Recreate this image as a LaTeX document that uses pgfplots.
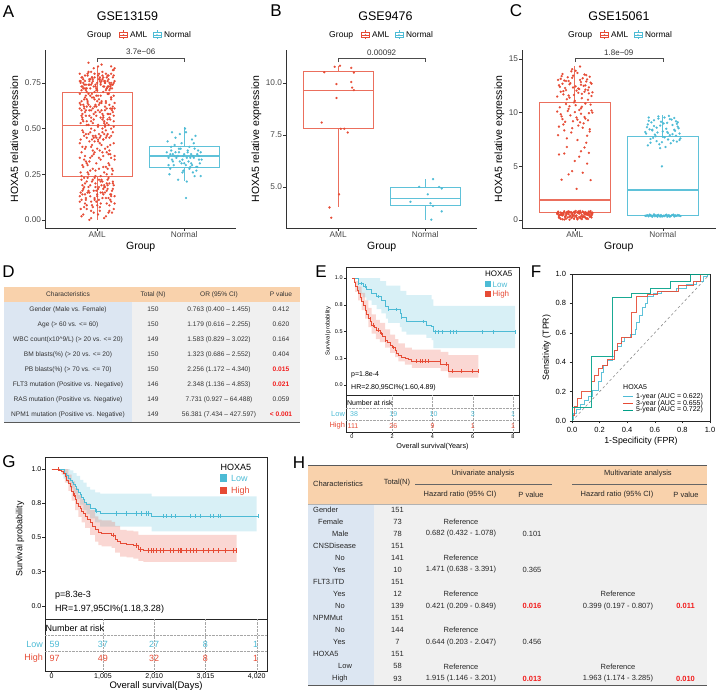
\documentclass[border=0pt]{standalone}
\usepackage{fontspec}
\setmainfont{Liberation Sans}
\usepackage{pgfplots}
\pgfplotsset{compat=1.18}
\usepgfplotslibrary{statistics}

\definecolor{aml}{HTML}{E64B35}
\definecolor{nrm}{HTML}{4DBBD5}
\definecolor{tealc}{HTML}{00A087}
\definecolor{peach}{HTML}{F9D2AC}
\definecolor{colblue}{HTML}{DCE6F2}
\definecolor{bodygray}{HTML}{F0F0F0}
\definecolor{axisgray}{HTML}{333333}
\definecolor{pred}{HTML}{F21D1D}

\newcommand{\fs}[1]{\fontsize{#1}{#1}\selectfont}

\pgfplotsset{
  every axis/.append style={/pgf/number format/assume math mode=true, scale only axis},
  ggbox/.style={
    anchor=south west, height=178pt,
    axis x line*=bottom, axis y line*=left,
    axis line style={line width=0.6pt, axisgray},
    tick align=outside, major tick length=2.8pt,
    every tick/.style={line width=0.6pt, axisgray},
    tick label style={font=\fs{8.3}, text=black!72},
    xticklabel style={inner sep=0.6pt}, yticklabel style={inner sep=1pt},
    xtick={1,2}, xticklabels={AML,Normal},
    xmin=0.4, xmax=2.6, clip=false,
    xlabel={Group}, ylabel={HOXA5 relative expression},
    label style={font=\fs{10.5}},
  },
  amlbox/.style={color=aml!80, line width=0.7pt, solid, boxplot/draw direction=y, boxplot/every median/.style={line width=1.3pt}},
  nrmbox/.style={color=nrm!90, line width=0.7pt, solid, boxplot/draw direction=y, boxplot/every median/.style={line width=1.3pt}},
  amlpts/.style={only marks, color=aml, mark=*, mark size=1.1pt, mark options={solid, draw=aml, fill=aml, line width=0.1pt}},
  nrmpts/.style={only marks, color=nrm, mark=*, mark size=1.1pt, mark options={solid, draw=nrm, fill=nrm, line width=0.1pt}},
  kmframe/.style={anchor=south west, axis line style={line width=0.6pt, black!85},
    tick align=outside, tick pos=left, xtick=\empty,
    every tick/.style={line width=0.5pt, black!85},
    ytick={0,0.25,0.5,0.75,1}, yticklabels={0.0,0.3,0.5,0.8,1.0}},
  risk/.style={anchor=south west, axis line style={line width=0.6pt, black!85},
    tick align=outside, tick pos=left, ytick=\empty, ymin=0, ymax=1, clip=false,
    every tick/.style={line width=0.5pt, black!85}},
}

\newcommand{\boxkey}[2]{%
  \draw[#2, line width=0.5pt] ({#1-4},654.5) rectangle ({#1+4},659.5);
  \draw[#2, line width=0.5pt] ({#1-4},657) -- ({#1+4},657);
  \draw[#2, line width=0.5pt] (#1,659.5) -- (#1,661.5) (#1,654.5) -- (#1,652.5);
  \fill[#2] (#1,657) circle (0.9);}
\newcommand{\grouplegend}[1]{%
  \node[anchor=west, font=\fs{8.6}, inner sep=0pt] at (#1,657) {Group};
  \boxkey{#1+36.5}{aml}
  \node[anchor=west, font=\fs{8.3}, inner sep=0pt] at (#1+43,657) {AML};
  \boxkey{#1+70}{nrm}
  \node[anchor=west, font=\fs{8.3}, inner sep=0pt] at (#1+77,657) {Normal};}

\begin{document}
\begin{tikzpicture}[x=1pt,y=1pt]
\useasboundingbox (0,0) rectangle (721,692);

% ================= A: GSE13159 =================
\begin{axis}[ggbox, at={(45pt,464pt)}, width=191.4pt, ymin=-0.044, ymax=0.93,
  ytick={0,0.25,0.5,0.75}, yticklabels={0.00,0.25,0.50,0.75}]
\addplot[amlbox, boxplot prepared={draw position=1, median=0.516, lower quartile=0.237, upper quartile=0.697, lower whisker=0, upper whisker=0.845, box extend=0.8, whisker extend=0}] coordinates {};
\addplot[nrmbox, boxplot prepared={draw position=2, median=0.35, lower quartile=0.288, upper quartile=0.401, lower whisker=0.213, upper whisker=0.507, box extend=0.8, whisker extend=0}] coordinates {};
\addplot[amlpts] coordinates {
(0.87,0.71) (1.07,0.78) (1.18,0.74) (0.96,0.83) (1.11,0.72) (0.81,0.76) (1.02,0.80) (1.15,0.73) (0.91,0.77) (1.05,0.85) (0.84,0.75) (1.12,0.79) (0.99,0.71) (1.19,0.82) (0.93,0.74) (1.09,0.76) (0.88,0.72) (1.03,0.78) (1.16,0.84) (0.82,0.73) (1.06,0.77) (0.97,0.70) (1.14,0.75) (0.90,0.81) (1.01,0.79)
(1.17,0.74) (0.85,0.72) (1.08,0.76) (0.94,0.78) (1.13,0.73) (0.80,0.80) (1.04,0.75) (1.10,0.71) (0.92,0.77) (1.20,0.83) (0.98,0.74) (0.86,0.76) (1.15,0.72) (0.89,0.79) (1.00,0.75) (1.12,0.73) (0.83,0.78) (1.07,0.70) (0.95,0.76) (1.18,0.82) (0.91,0.74) (1.03,0.77) (0.84,0.72) (1.09,0.75) (0.97,0.80)
(0.96,0.73) (1.14,0.71) (0.82,0.78) (1.05,0.76) (0.90,0.74) (1.19,0.79) (0.87,0.72) (1.02,0.77) (1.16,0.75) (0.93,0.81) (1.08,0.73) (0.80,0.76) (1.11,0.78) (0.99,0.72) (0.85,0.74) (1.06,0.79) (1.20,0.76) (0.88,0.70) (1.01,0.84) (1.13,0.77) (0.94,0.75) (0.83,0.73) (1.10,0.80) (0.97,0.78) (1.17,0.72)
(1.04,0.74) (0.86,0.79) (1.12,0.76) (0.92,0.72) (1.18,0.78) (0.81,0.75) (1.07,0.73) (0.95,0.77) (1.15,0.74) (0.89,0.80) (1.00,0.71) (1.09,0.75) (0.84,0.77) (1.13,0.79) (0.98,0.73) (0.91,0.76) (1.19,0.75) (0.87,0.74) (1.06,0.81) (0.94,0.78) (1.11,0.72) (0.82,0.71) (1.03,0.76) (1.16,0.80) (0.90,0.86)
(1.08,0.53) (0.85,0.61) (1.16,0.67) (0.93,0.56) (1.03,0.64) (0.80,0.69) (1.12,0.58) (0.97,0.62) (1.19,0.54) (0.88,0.66) (1.05,0.60) (0.83,0.55) (1.14,0.63) (0.99,0.68) (0.91,0.57) (1.10,0.65) (0.86,0.59) (1.01,0.52) (1.17,0.61) (0.94,0.67) (1.07,0.56) (0.81,0.63) (1.13,0.69) (0.96,0.58) (0.89,0.64)
(1.02,0.66) (1.18,0.59) (0.84,0.54) (1.09,0.62) (0.92,0.68) (1.15,0.55) (0.87,0.60) (1.00,0.65) (0.82,0.57) (1.11,0.61) (0.95,0.53) (1.20,0.64) (0.90,0.69) (1.06,0.58) (0.85,0.66) (1.13,0.52) (0.98,0.63) (0.80,0.61) (1.04,0.56) (1.16,0.67) (0.93,0.60) (1.08,0.54) (0.88,0.62) (1.01,0.68) (1.19,0.57)
(0.95,0.61) (1.12,0.69) (0.83,0.58) (1.06,0.55) (0.90,0.63) (1.17,0.60) (0.97,0.66) (0.81,0.53) (1.10,0.64) (0.86,0.67) (1.03,0.59) (1.14,0.56) (0.92,0.62) (1.19,0.68) (0.88,0.54) (1.05,0.65) (0.99,0.57) (1.15,0.61) (0.84,0.63) (1.09,0.52) (0.94,0.69) (1.01,0.60) (0.82,0.65) (1.13,0.58) (0.96,0.55)
(1.18,0.62) (0.87,0.57) (1.04,0.68) (0.91,0.60) (1.11,0.53) (0.80,0.64) (0.98,0.59) (1.16,0.66) (0.85,0.62) (1.07,0.57) (0.93,0.54) (1.20,0.61) (0.89,0.65) (1.02,0.63) (1.13,0.69) (0.83,0.56) (1.09,0.60) (0.96,0.67) (1.15,0.58) (0.90,0.52) (1.05,0.64) (0.82,0.60) (1.12,0.55) (0.99,0.62) (0.87,0.68)
(1.03,0.45) (0.87,0.47) (1.11,0.46) (0.94,0.44) (1.06,0.48) (0.98,0.46) (1.14,0.45) (0.90,0.47) (1.01,0.44) (1.08,0.47) (0.96,0.45) (1.04,0.46) (0.85,0.46) (1.12,0.47) (0.92,0.48) (0.99,0.45) (1.07,0.44) (1.16,0.46) (0.88,0.45) (1.02,0.47) (0.95,0.46) (1.10,0.45) (0.83,0.49) (1.18,0.48) (0.97,0.43)
(0.81,0.26) (1.13,0.31) (0.95,0.38) (1.07,0.29) (0.86,0.35) (1.19,0.42) (0.92,0.27) (1.04,0.33) (0.83,0.40) (1.15,0.36) (0.98,0.24) (1.09,0.39) (0.89,0.30) (1.01,0.51) (1.17,0.28) (0.94,0.41) (0.80,0.34) (1.11,0.25) (0.97,0.37) (1.06,0.50) (0.87,0.32) (1.14,0.38) (0.91,0.43) (1.02,0.28) (1.20,0.35)
(1.05,0.41) (0.84,0.29) (1.16,0.34) (0.93,0.50) (1.08,0.26) (0.82,0.37) (1.12,0.40) (0.99,0.31) (0.88,0.52) (1.18,0.27) (0.96,0.36) (1.03,0.42) (0.85,0.33) (1.10,0.49) (0.90,0.25) (1.14,0.30) (1.00,0.39) (0.81,0.44) (1.07,0.35) (0.95,0.28) (1.19,0.51) (0.87,0.40) (1.04,0.24) (0.92,0.34) (1.11,0.37)
(0.97,0.49) (1.15,0.41) (0.83,0.30) (1.06,0.37) (0.89,0.26) (1.20,0.33) (1.01,0.43) (0.86,0.39) (1.12,0.28) (0.94,0.35) (1.09,0.51) (0.80,0.42) (1.17,0.25) (0.91,0.32) (1.03,0.38) (0.84,0.48) (1.13,0.36) (0.98,0.27) (1.07,0.44) (0.88,0.31) (1.16,0.50) (0.93,0.40) (1.02,0.34) (0.82,0.24) (1.10,0.29)
(1.06,0.12) (0.83,0.19) (1.14,0.05) (0.95,0.22) (1.09,0.15) (0.88,0.08) (1.18,0.20) (1.01,0.03) (0.86,0.14) (1.12,0.17) (0.93,0.10) (1.04,0.21) (0.81,0.06) (1.16,0.13) (0.98,0.18) (1.08,0.01) (0.90,0.16) (1.20,0.09) (0.85,0.23) (1.02,0.11) (1.13,0.04) (0.92,0.19) (1.07,0.14) (0.82,0.02) (0.99,0.16)
(1.11,0.20) (0.87,0.12) (1.03,0.07) (1.17,0.16) (0.94,0.21) (0.80,0.10) (1.08,0.18) (0.96,0.04) (1.15,0.11) (0.89,0.15) (1.05,0.22) (0.84,0.17) (1.19,0.06) (1.00,0.13) (0.91,0.00) (1.12,0.19) (0.86,0.09) (1.06,0.15) (0.97,0.23) (1.14,0.08) (0.83,0.14) (1.02,0.18) (1.10,0.12) (0.93,0.05) (1.18,0.21)
(0.90,0.18) (1.15,0.14) (0.82,0.22) (1.04,0.09) (0.96,0.16) (1.10,0.02) (0.87,0.11) (1.19,0.19) (1.00,0.14) (0.85,0.07) (1.13,0.23) (0.92,0.13) (1.07,0.17) (0.81,0.15) (1.16,0.10) (0.98,0.20) (1.03,0.05) (0.88,0.21) (1.11,0.16) (0.94,0.08) (1.20,0.13) (0.84,0.03) (1.05,0.19) (0.97,0.11) (1.12,0.22)
(1.01,0.17) (0.86,0.20) (1.13,0.12) (0.91,0.15) (1.17,0.04) (0.83,0.16) (1.06,0.21) (0.95,0.07) (1.09,0.18) (0.80,0.13) (1.14,0.20) (0.99,0.10) (0.89,0.23) (1.04,0.15) (1.18,0.17) (0.93,0.01) (1.11,0.09) (0.85,0.18) (1.02,0.22) (0.97,0.12) (1.16,0.14) (0.88,0.06) (1.08,0.19) (0.82,0.11) (1.00,0.08)
};
\addplot[nrmpts] coordinates {
(1.93,0.35) (2.08,0.31) (1.85,0.38) (2.14,0.29) (1.97,0.42) (2.11,0.34) (1.82,0.30) (2.04,0.37) (1.90,0.45) (2.17,0.33) (1.99,0.27) (2.06,0.40) (1.87,0.36) (2.19,0.24) (1.95,0.32) (2.02,0.48) (1.84,0.28) (2.12,0.39) (1.92,0.35) (2.09,0.30) (1.81,0.43) (2.15,0.36) (1.98,0.26) (2.03,0.34) (1.89,0.41) (2.18,0.31) (1.94,0.37) (2.07,0.29) (1.86,0.33) (2.13,0.46) (2.00,0.36) (1.83,0.25) (2.10,0.35) (1.96,0.39) (2.05,0.32) (1.88,0.30) (2.16,0.38) (1.91,0.34) (2.01,0.50) (1.80,0.37) (2.14,0.27) (1.97,0.31) (2.08,0.36) (1.85,0.40) (2.20,0.33) (1.93,0.22) (2.04,0.38) (1.99,0.35) (2.11,0.42) (1.87,0.32) (2.06,0.28) (1.95,0.47) (2.17,0.35) (1.82,0.34) (2.02,0.30) (1.90,0.37) (2.12,0.24) (1.98,0.33) (2.09,0.44) (1.84,0.36) (2.15,0.29) (1.94,0.39) (2.03,0.21) (1.89,0.35) (2.19,0.37) (2.00,0.31) (1.86,0.48) (2.07,0.34) (2.10,0.26) (2.02,0.12)
};
\draw[black!70, line width=0.5pt] (axis cs:1,0.865) -- (axis cs:1,0.887) -- (axis cs:2,0.887) -- (axis cs:2,0.865);
\node[font=\fs{8}, text=black!80] at (axis cs:1.5,0.92) {3.7e−06};
\end{axis}
\node[font=\fs{12.5}] at (127.5,676) {GSE13159};
\grouplegend{87}

% ================= B: GSE9476 =================
\begin{axis}[ggbox, at={(286pt,464pt)}, width=191.4pt, ymin=3.03, ymax=11.59,
  ytick={5,7.5,10}, yticklabels={5.0,7.5,10.0}]
\addplot[amlbox, boxplot prepared={draw position=1, median=9.65, lower quartile=7.8, upper quartile=10.55, lower whisker=4.02, upper whisker=10.83, box extend=0.8, whisker extend=0}] coordinates {};
\addplot[nrmbox, boxplot prepared={draw position=2, median=4.46, lower quartile=4.10, upper quartile=5.0, lower whisker=3.43, upper whisker=5.38, box extend=0.8, whisker extend=0}] coordinates {};
\addplot[amlpts] coordinates {
(0.96,10.78) (1.02,10.83) (1.15,10.73) (0.84,10.52) (1.18,10.50) (0.98,9.95) (1.15,10.05) (1.16,9.78) (1.18,9.66) (0.98,9.28) (0.81,8.10) (1.03,7.80) (1.07,7.80) (1.11,7.62) (1.01,4.65) (0.90,4.02) (0.92,3.52)
};
\addplot[nrmpts] coordinates {
(2.09,5.38) (1.93,5.01) (2.16,5.00) (2.19,4.93) (2.03,4.65) (1.83,4.29) (2.06,4.22) (2.09,4.09) (2.19,3.83) (2.07,3.43)
};
\draw[black!70, line width=0.5pt] (axis cs:1,11.0) -- (axis cs:1,11.2) -- (axis cs:2,11.2) -- (axis cs:2,11.0);
\node[font=\fs{8}, text=black!80] at (axis cs:1.5,11.47) {0.00092};
\end{axis}
\node[font=\fs{12.5}] at (385.5,676) {GSE9476};
\grouplegend{329}

% ================= C: GSE15061 =================
\begin{axis}[ggbox, at={(522pt,464pt)}, width=193.6pt, ymin=-0.745, ymax=15.84,
  ytick={0,5,10,15}]
\addplot[amlbox, boxplot prepared={draw position=1, median=1.86, lower quartile=0.72, upper quartile=10.97, lower whisker=0.03, upper whisker=14.35, box extend=0.8, whisker extend=0}] coordinates {};
\addplot[nrmbox, boxplot prepared={draw position=2, median=2.8, lower quartile=0.47, upper quartile=7.83, lower whisker=0.30, upper whisker=9.79, box extend=0.8, whisker extend=0}] coordinates {};
\addplot[amlpts] coordinates {
(0.87,0.62) (1.07,0.35) (1.18,0.71) (0.96,0.18) (1.11,0.55) (0.81,0.78) (1.02,0.42) (1.15,0.09) (0.91,0.66) (1.05,0.27) (0.84,0.49) (1.12,0.74) (0.99,0.13) (1.19,0.58) (0.93,0.81) (1.09,0.31) (0.88,0.05) (1.03,0.68) (1.16,0.44) (0.82,0.22) (1.06,0.76) (0.97,0.51) (1.14,0.16) (0.90,0.39) (1.01,0.84)
(1.17,0.29) (0.85,0.63) (1.08,0.47) (0.94,0.72) (1.13,0.11) (0.80,0.56) (1.04,0.80) (1.10,0.37) (0.92,0.24) (1.20,0.69) (0.98,0.45) (0.86,0.07) (1.15,0.60) (0.89,0.33) (1.00,0.77) (1.12,0.52) (0.83,0.19) (1.07,0.65) (0.95,0.40) (1.18,0.83) (0.91,0.57) (1.03,0.14) (0.84,0.70) (1.09,0.26) (0.97,0.61)
(0.96,0.73) (1.14,0.48) (0.82,0.36) (1.05,0.59) (0.90,0.12) (1.19,0.41) (0.87,0.67) (1.02,0.25) (1.16,0.79) (0.93,0.54) (1.08,0.08) (0.80,0.64) (1.11,0.30) (0.99,0.75) (0.85,0.46) (1.06,0.20) (1.20,0.57) (0.88,0.82) (1.01,0.38) (1.13,0.66) (0.94,0.03) (0.83,0.50) (1.10,0.72) (0.97,0.28) (1.17,0.53)
(1.04,0.68) (0.86,0.43) (1.12,0.21) (0.92,0.77) (1.18,0.34) (0.81,0.60) (1.07,0.15) (0.95,0.70) (1.15,0.49) (0.89,0.26) (1.00,0.63) (1.09,0.80) (0.84,0.10) (1.13,0.58) (0.98,0.37) (0.91,0.74) (1.19,0.23) (0.87,0.52) (1.06,0.85) (0.94,0.31) (1.11,0.62) (0.82,0.45) (1.03,0.06) (1.16,0.75) (0.90,0.55)
(1.02,2.90) (0.85,3.75) (1.18,3.72) (0.93,4.25) (1.09,4.40) (0.97,4.55) (1.14,5.25) (0.82,6.10) (1.05,5.90) (0.88,6.20) (1.16,6.25) (1.00,5.50) (1.11,6.75) (0.91,6.80) (1.07,6.40)
(0.84,9.85) (1.08,10.55) (0.96,8.15) (1.15,9.30) (0.90,10.80) (1.03,7.45) (1.19,10.20) (0.87,8.90) (1.11,9.60) (0.99,10.95) (0.81,7.90) (1.06,9.10) (1.17,8.45) (0.93,10.35) (1.13,7.20) (0.86,9.40) (1.01,10.70) (1.09,8.60) (0.95,9.75) (1.20,10.00) (0.83,10.50) (1.04,8.80) (1.16,9.95) (0.91,7.60) (1.07,10.40) (0.98,9.20) (1.12,10.85) (0.88,8.35) (1.02,9.55) (0.80,10.10) (1.14,7.85) (0.94,10.60) (1.10,9.00) (0.85,9.65) (1.05,10.25) (0.97,8.55) (1.18,10.75) (0.89,9.15) (1.00,10.05) (1.12,9.45) (0.82,8.70) (1.07,9.90) (0.92,10.15) (1.17,8.25) (1.03,9.35)
(0.86,12.70) (1.09,13.20) (0.94,11.40) (1.16,12.35) (0.81,13.05) (1.04,11.85) (1.13,12.90) (0.90,12.10) (1.19,11.55) (0.98,13.45) (0.84,11.95) (1.07,12.60) (1.15,11.20) (0.92,13.30) (1.01,12.45) (1.11,13.55) (0.87,11.70) (1.05,12.20) (0.96,13.85) (1.18,12.80) (0.82,12.55) (1.08,11.35) (0.93,12.95) (1.14,13.10) (0.99,11.65) (0.85,13.40) (1.12,12.15) (1.03,13.70) (0.89,12.30) (1.20,11.90)
(0.95,12.75) (1.06,14.30) (0.80,11.50) (1.10,12.50) (0.97,13.25) (1.16,11.80) (0.88,13.00) (1.02,12.05) (1.13,13.50) (0.91,11.25) (1.07,12.85) (0.83,12.40) (1.17,13.35) (1.00,11.10) (0.94,12.65) (1.11,11.95) (0.86,13.60) (1.04,12.25) (1.19,12.70) (0.97,14.05) (0.90,12.95) (1.08,11.75) (0.84,13.15) (1.15,12.10) (1.01,13.90) (0.93,11.60) (1.12,12.55) (0.87,12.00) (1.06,13.05) (0.98,12.35)
};
\addplot[nrmpts] coordinates {
(1.83,0.42) (2.07,0.35) (1.95,0.48) (2.16,0.38) (1.88,0.31) (2.03,0.45) (1.81,0.37) (2.12,0.50) (1.99,0.33) (2.19,0.41) (1.86,0.46) (2.05,0.30) (1.93,0.39) (2.14,0.44) (1.90,0.52) (2.09,0.36) (1.84,0.34) (2.01,0.40) (2.17,0.47) (1.97,0.32) (2.10,0.43) (1.87,0.38) (2.04,0.49) (1.80,0.40) (2.13,0.33) (1.94,0.44) (2.20,0.37) (1.91,0.35) (2.06,0.42) (1.85,0.50) (2.15,0.39) (1.98,0.46) (2.08,0.31) (1.82,0.44) (2.02,0.36) (2.18,0.42) (1.89,0.40) (2.11,0.47) (1.96,0.38) (1.92,0.43) (2.00,0.34) (2.14,0.37) (1.86,0.41) (2.07,0.45) (1.94,0.30)
(1.84,9.55) (2.06,8.10) (1.93,7.35) (2.15,9.20) (1.81,8.05) (2.02,7.70) (2.18,8.55) (1.90,9.30) (2.09,7.15) (1.97,8.80) (1.86,7.55) (2.13,9.50) (2.00,8.25) (1.83,6.95) (2.11,8.00) (1.95,9.65) (2.19,7.45) (1.88,8.40) (2.05,9.05) (1.92,7.80) (2.16,8.95) (1.99,7.25) (1.82,8.65) (2.08,9.40) (1.94,8.15) (2.20,7.60) (1.87,9.10) (2.03,6.80) (2.14,8.30) (1.91,7.95)
(2.07,9.70) (1.85,8.45) (2.12,7.40) (1.98,9.15) (2.17,8.70) (1.89,7.65) (2.04,8.50) (1.96,7.05) (2.10,9.35) (1.80,8.20) (2.01,9.00) (2.15,7.85) (1.93,8.60) (2.06,7.50) (1.84,9.25) (2.19,8.05) (1.97,6.70) (2.11,8.85) (1.88,8.35) (2.02,9.55) (2.16,7.30) (1.90,8.75) (2.08,7.90) (1.95,9.45) (1.86,7.20) (2.13,8.40) (2.00,7.75) (1.83,8.90) (2.05,8.20) (2.17,9.10) (1.99,5.00)
};
\draw[black!70, line width=0.5pt] (axis cs:1,14.72) -- (axis cs:1,15.08) -- (axis cs:2,15.08) -- (axis cs:2,14.72);
\node[font=\fs{8}, text=black!80] at (axis cs:1.5,15.62) {1.8e−09};
\end{axis}
\node[font=\fs{12.5}] at (619,676) {GSE15061};
\grouplegend{568}

% ================= D: logistic regression table =================
\fill[peach] (4,390) rectangle (300,405);
\fill[colblue] (4,270) rectangle (132,390);
\fill[bodygray] (132,270) rectangle (300,390);
\draw[black!65, line width=0.8pt] (4,270) -- (300,270);
\begin{scope}[every node/.style={font=\fs{6.6}, text=black!80, inner sep=0pt}]
\node at (68,397.5) {Characteristics};
\node at (153,397.5) {Total (N)};
\node at (219,397.5) {OR (95\% CI)};
\node at (281,397.5) {P value};
\node at (68,382.5) {Gender (Male vs. Female)};
\node at (153,382.5) {150}; \node at (219,382.5) {0.763 (0.400 – 1.455)}; \node at (281,382.5) {0.412};
\node at (68,367.5) {Age (> 60 vs. <= 60)};
\node at (153,367.5) {150}; \node at (219,367.5) {1.179 (0.616 – 2.255)}; \node at (281,367.5) {0.620};
\node at (68,352.5) {WBC count(x10\textasciicircum 9/L) (> 20 vs. <= 20)};
\node at (153,352.5) {149}; \node at (219,352.5) {1.583 (0.829 – 3.022)}; \node at (281,352.5) {0.164};
\node at (68,337.5) {BM blasts(\%) (> 20 vs. <= 20)};
\node at (153,337.5) {150}; \node at (219,337.5) {1.323 (0.686 – 2.552)}; \node at (281,337.5) {0.404};
\node at (68,322.5) {PB blasts(\%) (> 70 vs. <= 70)};
\node at (153,322.5) {150}; \node at (219,322.5) {2.256 (1.172 – 4.340)}; \node[text=pred, font=\fs{6.6}\bfseries] at (281,322.5) {0.015};
\node at (68,307.5) {FLT3 mutation (Positive vs. Negative)};
\node at (153,307.5) {146}; \node at (219,307.5) {2.348 (1.136 – 4.853)}; \node[text=pred, font=\fs{6.6}\bfseries] at (281,307.5) {0.021};
\node at (68,292.5) {RAS mutation (Positive vs. Negative)};
\node at (153,292.5) {149}; \node at (219,292.5) {7.731 (0.927 – 64.488)}; \node at (281,292.5) {0.059};
\node at (68,277.5) {NPM1 mutation (Positive vs. Negative)};
\node at (153,277.5) {149}; \node at (219,277.5) {56.381 (7.434 – 427.597)}; \node[text=pred, font=\fs{6.6}\bfseries] at (281,277.5) {< 0.001};
\end{scope}

% ================= E: KM curve (years) =================
\begin{axis}[kmframe, at={(346pt,297pt)}, width=173pt, height=128pt,
  xmin=-0.298, xmax=8.298, ymin=-0.093, ymax=1.103, major tick length=2pt,
  tick label style={font=\fs{5.5}}, yticklabel style={inner sep=1.2pt}]
% confidence bands (upper edge forward, lower edge backward)
\addplot[fill=nrm, fill opacity=0.22, draw=none] coordinates {(0,1) (1.4,1) (1.4,0.97) (1.7,0.97) (1.7,0.93) (2.4,0.93) (2.4,0.88) (2.7,0.88) (2.7,0.84) (3.95,0.84) (3.95,0.80) (4.04,0.80) (4.04,0.74) (8.1,0.74)
(8.1,0.345) (4.04,0.345) (4.04,0.42) (3.95,0.42) (3.95,0.44) (3.7,0.44) (3.7,0.47) (2.7,0.47) (2.7,0.50) (2.46,0.50) (2.46,0.54) (2.38,0.54) (2.38,0.58) (1.8,0.58) (1.8,0.62) (1.68,0.62) (1.68,0.67) (1.46,0.67) (1.46,0.71) (1.22,0.71) (1.22,0.75) (0.98,0.75) (0.98,0.79) (0.72,0.79) (0.72,0.82) (0.55,0.82) (0.55,0.85) (0.3,0.85) (0.3,1) (0,1)};
\addplot[fill=aml, fill opacity=0.22, draw=none] coordinates {(0,1) (0.15,1) (0.15,0.97) (0.31,0.97) (0.31,0.92) (0.48,0.92) (0.48,0.86) (0.65,0.86) (0.65,0.79) (0.81,0.79) (0.81,0.72) (0.98,0.72) (0.98,0.66) (1.19,0.66) (1.19,0.61) (1.39,0.61) (1.39,0.58) (1.64,0.58) (1.64,0.52) (1.89,0.52) (1.89,0.47) (2.14,0.47) (2.14,0.43) (2.30,0.43) (2.30,0.39) (2.63,0.39) (2.63,0.35) (2.97,0.35) (2.97,0.33) (4.40,0.33) (4.40,0.31) (4.79,0.31) (4.79,0.28) (6.28,0.28)
(6.28,0.07) (4.79,0.07) (4.79,0.13) (4.40,0.13) (4.40,0.16) (2.97,0.16) (2.97,0.19) (2.63,0.19) (2.63,0.22) (2.30,0.22) (2.30,0.26) (2.14,0.26) (2.14,0.30) (1.89,0.30) (1.89,0.35) (1.64,0.35) (1.64,0.40) (1.39,0.40) (1.39,0.43) (1.19,0.43) (1.19,0.48) (0.98,0.48) (0.98,0.54) (0.81,0.54) (0.81,0.62) (0.65,0.62) (0.65,0.70) (0.48,0.70) (0.48,0.79) (0.31,0.79) (0.31,0.87) (0.15,0.87) (0.15,1) (0,1)};
\addplot[nrm, line width=0.8pt, const plot] coordinates {(0,1) (0.30,0.95) (0.55,0.925) (0.72,0.894) (0.98,0.857) (1.22,0.826) (1.46,0.788) (1.68,0.738) (1.80,0.707) (2.38,0.67) (2.46,0.632) (2.70,0.592) (3.70,0.561) (3.95,0.545) (4.04,0.498) (8.1,0.498)};
\addplot[aml, line width=0.8pt, const plot] coordinates {(0,1) (0.1,0.96) (0.15,0.92) (0.25,0.88) (0.31,0.857) (0.4,0.82) (0.48,0.779) (0.56,0.74) (0.65,0.70) (0.73,0.66) (0.81,0.62) (0.9,0.59) (0.98,0.561) (1.1,0.535) (1.19,0.514) (1.39,0.483) (1.5,0.455) (1.64,0.42) (1.75,0.40) (1.89,0.374) (2.0,0.35) (2.14,0.327) (2.22,0.30) (2.30,0.28) (2.45,0.262) (2.63,0.249) (2.8,0.236) (2.97,0.224) (4.40,0.196) (4.79,0.131) (6.28,0.131)};
\addplot[only marks, mark=|, mark size=1.8pt, nrm, mark options={line width=0.5pt}] coordinates {(0.31,0.95) (0.48,0.95) (0.65,0.925) (1.31,0.826) (1.81,0.707) (2.22,0.707) (2.47,0.632) (3.54,0.592) (4.12,0.498) (4.29,0.498) (4.46,0.498) (4.87,0.498) (5.03,0.498) (5.2,0.498) (6.45,0.498) (7.02,0.498) (8.1,0.498)};
\addplot[only marks, mark=|, mark size=1.8pt, aml, mark options={line width=0.5pt}] coordinates {(0.89,0.62) (1.06,0.561) (1.31,0.514) (1.47,0.483) (1.64,0.42) (2.05,0.35) (3.21,0.224) (3.38,0.224) (3.5,0.224) (3.63,0.224) (3.79,0.224) (4.37,0.224) (4.7,0.196) (5.0,0.131) (5.45,0.131) (5.95,0.131) (6.28,0.131)};
\end{axis}
\node[anchor=west, font=\fs{7}, inner sep=0pt] at (351,317) {p=1.8e-4};
\node[anchor=west, font=\fs{7}, inner sep=0pt] at (351,304) {HR=2.80,95CI\%(1.60,4.89)};
\node[anchor=west, font=\fs{8}, inner sep=0pt] at (485,418) {HOXA5};
\fill[nrm] (485,405) rectangle (490.5,410.5);
\node[anchor=west, font=\fs{8}, inner sep=0pt, text=nrm] at (492.5,407.7) {Low};
\fill[aml] (485,395) rectangle (490.5,400.5);
\node[anchor=west, font=\fs{8}, inner sep=0pt, text=aml] at (492.5,397.7) {High};
\node[rotate=90, font=\fs{5.8}] at (328,361) {Survival probability};

\begin{axis}[risk, at={(346pt,260pt)}, width=173pt, height=37pt,
  xmin=-0.298, xmax=8.298, xtick={0,2,4,6,8}, major tick length=2pt,
  tick label style={font=\fs{5.5}}, xticklabel style={inner sep=0.6pt}]
\draw[black!35, densely dotted, line width=0.4pt] (axis cs:2,0) -- (axis cs:2,1) (axis cs:4,0) -- (axis cs:4,1) (axis cs:6,0) -- (axis cs:6,1) (axis cs:8,0) -- (axis cs:8,1);
\draw[black!35, densely dotted, line width=0.4pt] (axis cs:-0.298,0.635) -- (axis cs:8.298,0.635) (axis cs:-0.298,0.324) -- (axis cs:8.298,0.324);
\node[anchor=west, font=\fs{7}, inner sep=0pt] at (axis cs:-0.25,0.79) {Number at risk};
\node[anchor=east, font=\fs{7.5}, inner sep=0pt, text=nrm] at (axis cs:-0.34,0.486) {Low};
\node[anchor=east, font=\fs{7.5}, inner sep=0pt, text=aml] at (axis cs:-0.34,0.162) {High};
\begin{scope}[every node/.style={font=\fs{7}, inner sep=0pt}]
\node[text=nrm] at (axis cs:0.1,0.486) {38}; \node[text=nrm] at (axis cs:2.05,0.486) {19}; \node[text=nrm] at (axis cs:4.05,0.486) {10}; \node[text=nrm] at (axis cs:6,0.486) {3}; \node[text=nrm] at (axis cs:8,0.486) {1};
\node[text=aml] at (axis cs:0.05,0.162) {111}; \node[text=aml] at (axis cs:2.05,0.162) {26}; \node[text=aml] at (axis cs:4,0.162) {9}; \node[text=aml] at (axis cs:6,0.162) {1}; \node[text=aml] at (axis cs:8,0.162) {1};
\end{scope}
\end{axis}
\node[font=\fs{7.2}] at (432.5,245) {Overall survival(Years)};

% ================= F: time-dependent ROC =================
\begin{axis}[anchor=south west, at={(572pt,271pt)}, width=138pt, height=147pt,
  xmin=0, xmax=1, ymin=0, ymax=1, tick pos=left, tick align=outside, major tick length=2.5pt,
  axis line style={line width=0.6pt, black!85}, every tick/.style={line width=0.5pt, black!85},
  xtick={0,0.2,0.4,0.6,0.8,1}, xticklabels={0.0,0.2,0.4,0.6,0.8,1.0},
  ytick={0,0.2,0.4,0.6,0.8,1}, yticklabels={0.0,0.2,0.4,0.6,0.8,1.0},
  tick label style={font=\fs{7.5}}, label style={font=\fs{8.8}},
  xlabel={1-Specificity (FPR)}, ylabel={Sensitivity (TPR)},
  xlabel style={yshift=2pt}, ylabel style={yshift=-2pt}]
\addplot[black!45, line width=0.6pt, dash pattern=on 2.5pt off 2.5pt] coordinates {(0,0) (1,1)};
\addplot[nrm, line width=0.9pt, opacity=0.9] coordinates {(0,0) (0,0.02) (0.01,0.02) (0.01,0.05) (0.03,0.05) (0.03,0.08) (0.06,0.08) (0.06,0.11) (0.09,0.11) (0.09,0.14) (0.12,0.14) (0.12,0.17) (0.15,0.17) (0.15,0.21) (0.19,0.21) (0.19,0.27) (0.21,0.27) (0.21,0.33) (0.23,0.33) (0.23,0.38) (0.26,0.38) (0.26,0.41) (0.29,0.41) (0.29,0.44) (0.31,0.44) (0.31,0.48) (0.33,0.48) (0.33,0.51) (0.36,0.51) (0.36,0.54) (0.38,0.54) (0.38,0.57) (0.42,0.57) (0.42,0.59) (0.46,0.59) (0.46,0.62) (0.47,0.62) (0.47,0.67) (0.49,0.67) (0.49,0.72) (0.51,0.72) (0.51,0.77) (0.53,0.77) (0.53,0.80) (0.55,0.80) (0.55,0.85) (0.59,0.85) (0.59,0.87) (0.65,0.87) (0.65,0.88) (0.76,0.88) (0.76,0.90) (0.83,0.90) (0.83,0.93) (0.90,0.93) (0.90,0.95) (0.95,0.95) (0.95,0.98) (0.98,0.98) (0.98,1) (1,1)};
\addplot[aml, line width=0.9pt, opacity=0.9] coordinates {(0,0) (0,0.04) (0.02,0.04) (0.02,0.10) (0.04,0.10) (0.04,0.15) (0.07,0.15) (0.07,0.20) (0.14,0.20) (0.14,0.27) (0.16,0.27) (0.16,0.31) (0.19,0.31) (0.19,0.36) (0.22,0.36) (0.22,0.38) (0.26,0.38) (0.26,0.42) (0.31,0.42) (0.31,0.48) (0.33,0.48) (0.33,0.53) (0.36,0.53) (0.36,0.57) (0.43,0.57) (0.43,0.74) (0.47,0.74) (0.47,0.85) (0.55,0.85) (0.55,0.86) (0.62,0.86) (0.62,0.88) (0.77,0.88) (0.77,0.92) (0.88,0.92) (0.88,0.95) (0.93,0.95) (0.93,1) (1,1)};
\addplot[tealc, line width=0.9pt, opacity=0.9] coordinates {(0,0) (0,0.09) (0.14,0.09) (0.14,0.44) (0.29,0.44) (0.29,0.84) (0.43,0.84) (0.43,0.87) (0.57,0.87) (0.57,0.90) (0.71,0.90) (0.71,0.95) (0.86,0.95) (0.86,1) (1,1)};
\end{axis}
\node[anchor=west, font=\fs{7}, inner sep=0pt] at (623,305) {HOXA5};
\draw[nrm, line width=0.9pt] (623,295.3) -- (633,295.3);
\node[anchor=west, font=\fs{7}, inner sep=0pt] at (636,295.3) {1-year (AUC = 0.622)};
\draw[aml, line width=0.9pt] (623,288.7) -- (633,288.7);
\node[anchor=west, font=\fs{7}, inner sep=0pt] at (636,288.7) {3-year (AUC = 0.655)};
\draw[tealc, line width=0.9pt] (623,282) -- (633,282);
\node[anchor=west, font=\fs{7}, inner sep=0pt] at (636,282) {5-year (AUC = 0.722)};

% ================= G: KM curve (days) =================
\begin{axis}[kmframe, at={(45pt,73pt)}, width=222pt, height=162pt,
  xmin=-131, xmax=4222, ymin=-0.095, ymax=1.088, major tick length=2.5pt,
  tick label style={font=\fs{7}}, yticklabel style={inner sep=1pt}]
\addplot[fill=nrm, fill opacity=0.22, draw=none] coordinates {(0,1) (360,1) (360,0.99) (425,0.99) (425,0.97) (490,0.97) (490,0.95) (556,0.95) (556,0.92) (621,0.92) (621,0.90) (686,0.90) (686,0.87) (752,0.87) (752,0.85) (850,0.85) (850,0.83) (948,0.83) (948,0.82) (1961,0.82) (1961,0.80) (4020,0.80)
(4020,0.545) (1961,0.545) (1961,0.58) (948,0.58) (948,0.61) (850,0.61) (850,0.64) (752,0.64) (752,0.67) (686,0.67) (686,0.70) (621,0.70) (621,0.74) (556,0.74) (556,0.78) (490,0.78) (490,0.82) (425,0.82) (425,0.86) (360,0.86) (360,0.90) (294,0.90) (294,0.93) (229,0.93) (229,1) (0,1)};
\addplot[fill=aml, fill opacity=0.22, draw=none] coordinates {(0,1) (327,1) (327,0.96) (392,0.96) (392,0.91) (458,0.91) (458,0.86) (523,0.86) (523,0.81) (588,0.81) (588,0.78) (654,0.78) (654,0.75) (752,0.75) (752,0.70) (850,0.70) (850,0.655) (915,0.655) (915,0.63) (981,0.63) (981,0.625) (1177,0.625) (1177,0.615) (1242,0.615) (1242,0.585) (1340,0.585) (1340,0.555) (1471,0.555) (1471,0.55) (1602,0.55) (1602,0.545) (1700,0.545) (1700,0.52) (3628,0.52)
(3628,0.323) (1798,0.323) (1798,0.33) (1700,0.33) (1700,0.345) (1602,0.345) (1602,0.355) (1471,0.355) (1471,0.36) (1340,0.36) (1340,0.39) (1242,0.39) (1242,0.425) (1177,0.425) (1177,0.435) (981,0.435) (981,0.445) (915,0.445) (915,0.47) (850,0.47) (850,0.52) (752,0.52) (752,0.57) (654,0.57) (654,0.61) (588,0.61) (588,0.65) (523,0.65) (523,0.70) (458,0.70) (458,0.77) (392,0.77) (392,0.84) (327,0.84) (327,0.90) (261,0.90) (261,0.96) (196,0.96) (196,1) (0,1)};
\addplot[nrm, line width=0.8pt, const plot] coordinates {(0,1) (250,0.97) (294,0.95) (330,0.93) (360,0.92) (400,0.90) (425,0.886) (460,0.87) (490,0.85) (520,0.83) (556,0.813) (590,0.795) (621,0.777) (650,0.76) (686,0.74) (752,0.716) (850,0.692) (948,0.675) (1961,0.655) (4053,0.655)};
\addplot[aml, line width=0.8pt, const plot] coordinates {(0,1) (160,0.99) (196,0.983) (230,0.965) (261,0.947) (295,0.92) (327,0.898) (360,0.87) (392,0.837) (425,0.81) (458,0.777) (490,0.75) (523,0.728) (556,0.71) (588,0.692) (620,0.673) (654,0.655) (700,0.63) (752,0.607) (800,0.58) (850,0.558) (915,0.534) (981,0.527) (1177,0.517) (1242,0.485) (1290,0.47) (1340,0.454) (1471,0.449) (1602,0.442) (1700,0.413) (1798,0.405) (3628,0.405)};
\addplot[only marks, mark=|, mark size=2.2pt, nrm, mark options={line width=0.6pt}] coordinates {(882,0.692) (1275,0.675) (1471,0.675) (1667,0.675) (1765,0.675) (1863,0.675) (1896,0.675) (2190,0.655) (2255,0.655) (2353,0.655) (2419,0.655) (2713,0.655) (2811,0.655) (2909,0.655) (3105,0.655) (3170,0.655) (3268,0.655) (3301,0.655) (4053,0.655)};
\addplot[only marks, mark=|, mark size=2.2pt, aml, mark options={line width=0.6pt}] coordinates {(131,1) (440,0.81) (1209,0.517) (1667,0.442) (1732,0.413) (1896,0.405) (1961,0.405) (1994,0.405) (2059,0.405) (2125,0.405) (2190,0.405) (2321,0.405) (2386,0.405) (2484,0.405) (2517,0.405) (2549,0.405) (2647,0.405) (2713,0.405) (2778,0.405) (2844,0.405) (2974,0.405) (3072,0.405) (3170,0.405) (3268,0.405) (3399,0.405) (3563,0.405) (3628,0.405)};
\end{axis}
\node[anchor=west, font=\fs{9}, inner sep=0pt] at (55,97) {p=8.3e-3};
\node[anchor=west, font=\fs{9}, inner sep=0pt] at (55,83) {HR=1.97,95CI\%(1.18,3.28)};
\node[anchor=west, font=\fs{9}, inner sep=0pt] at (220.5,225) {HOXA5};
\fill[nrm] (220,210.3) rectangle (227.3,217.6);
\node[anchor=west, font=\fs{9}, inner sep=0pt, text=nrm] at (231,213.8) {Low};
\fill[aml] (220,197.7) rectangle (227.3,205);
\node[anchor=west, font=\fs{9}, inner sep=0pt, text=aml] at (231,201.3) {High};
\node[rotate=90, font=\fs{9}] at (20,153) {Survival probability};

\begin{axis}[risk, at={(45pt,21pt)}, width=222pt, height=52pt,
  xmin=-131, xmax=4222, xtick={0,1005,2010,3015,4020},
  xticklabels={0,{1,005},{2,010},{3,015},{4,020}}, major tick length=2pt,
  tick label style={font=\fs{7}}, xticklabel style={inner sep=0.3pt}]
\draw[black!35, densely dotted, line width=0.4pt] (axis cs:1005,0) -- (axis cs:1005,1) (axis cs:2010,0) -- (axis cs:2010,1) (axis cs:3015,0) -- (axis cs:3015,1) (axis cs:4020,0) -- (axis cs:4020,1);
\draw[black!35, densely dotted, line width=0.4pt] (axis cs:-131,0.692) -- (axis cs:4222,0.692) (axis cs:-131,0.385) -- (axis cs:4222,0.385);
\node[anchor=west, font=\fs{9}, inner sep=0pt] at (axis cs:-125,0.83) {Number at risk};
\node[anchor=east, font=\fs{9}, inner sep=0pt, text=nrm] at (axis cs:-170,0.519) {Low};
\node[anchor=east, font=\fs{9}, inner sep=0pt, text=aml] at (axis cs:-170,0.25) {High};
\begin{scope}[every node/.style={font=\fs{9}, inner sep=0pt}]
\node[text=nrm] at (axis cs:60,0.519) {59}; \node[text=nrm] at (axis cs:1005,0.519) {37}; \node[text=nrm] at (axis cs:2010,0.519) {27}; \node[text=nrm] at (axis cs:3015,0.519) {8}; \node[text=nrm] at (axis cs:4000,0.519) {1};
\node[text=aml] at (axis cs:60,0.25) {97}; \node[text=aml] at (axis cs:1005,0.25) {49}; \node[text=aml] at (axis cs:2010,0.25) {32}; \node[text=aml] at (axis cs:3015,0.25) {8}; \node[text=aml] at (axis cs:4000,0.25) {1};
\end{scope}
\end{axis}
\node[font=\fs{9.5}] at (156,5.5) {Overall survival(Days)};

% ================= H: Cox regression table =================
\fill[peach] (308,188) rectangle (707,227);
\fill[colblue] (308,7) rectangle (374,188);
\fill[bodygray] (374,7) rectangle (707,188);
\draw[black!65, line width=0.8pt] (308,227) -- (707,227);
\draw[black!30, line width=0.5pt] (308,188) -- (707,188);
\draw[black!65, line width=0.8pt] (308,7) -- (707,7);
\draw[black!60, line width=0.5pt] (415,208) -- (552,208);
\draw[black!60, line width=0.5pt] (572,208) -- (707,208);
\begin{scope}[every node/.style={font=\fs{7.5}, text=black!85, inner sep=0pt}]
\node[anchor=west] at (313,208) {Characteristics};
\node at (397,209) {Total(N)};
\node at (483,218) {Univariate analysis};
\node at (638,218) {Multivariate analysis};
\node at (460,197) {Hazard ratio (95\% CI)};
\node at (531,197) {P value};
\node at (617,197) {Hazard ratio (95\% CI)};
\node at (686,197) {P value};
% row labels
\node[anchor=west] at (313,182.5) {Gender};
\node[anchor=west] at (318,170.4) {Female};
\node[anchor=west] at (332,158.4) {Male};
\node[anchor=west] at (313,146.3) {CNSDisease};
\node[anchor=west] at (335,134.2) {No};
\node[anchor=west] at (333,122.2) {Yes};
\node[anchor=west] at (313,110.1) {FLT3.ITD};
\node[anchor=west] at (333,98) {Yes};
\node[anchor=west] at (335,85.9) {No};
\node[anchor=west] at (313,73.9) {NPMMut};
\node[anchor=west] at (335,61.8) {No};
\node[anchor=west] at (333,49.7) {Yes};
\node[anchor=west] at (313,37.7) {HOXA5};
\node[anchor=west] at (338,25.6) {Low};
\node[anchor=west] at (332,13.5) {High};
% totals
\node at (397.5,182.5) {151}; \node at (397.5,170.4) {73}; \node at (397.5,158.4) {78};
\node at (397.5,146.3) {151}; \node at (397.5,134.2) {141}; \node at (397.5,122.2) {10};
\node at (397.5,110.1) {151}; \node at (397.5,98) {12}; \node at (397.5,85.9) {139};
\node at (397.5,73.9) {151}; \node at (397.5,61.8) {144}; \node at (397.5,49.7) {7};
\node at (397.5,37.7) {151}; \node at (397.5,25.6) {58}; \node at (397.5,13.5) {93};
% univariate
\node at (461,170.4) {Reference};
\node at (461,158.4) {0.682 (0.432 - 1.078)}; \node at (532,158.4) {0.101};
\node at (461,134.2) {Reference};
\node at (461,122.2) {1.471 (0.638 - 3.391)}; \node at (532,122.2) {0.365};
\node at (461,98) {Reference};
\node at (461,85.9) {0.421 (0.209 - 0.849)}; \node[text=pred, font=\fs{7.5}\bfseries] at (532,85.9) {0.016};
\node at (461,61.8) {Reference};
\node at (461,49.7) {0.644 (0.203 - 2.047)}; \node at (532,49.7) {0.456};
\node at (461,25.6) {Reference};
\node at (461,13.5) {1.915 (1.146 - 3.201)}; \node[text=pred, font=\fs{7.5}\bfseries] at (532,13.5) {0.013};
% multivariate
\node at (618,98) {Reference};
\node at (618,85.9) {0.399 (0.197 - 0.807)}; \node[text=pred, font=\fs{7.5}\bfseries] at (685.5,85.9) {0.011};
\node at (618,25.6) {Reference};
\node at (618,13.5) {1.963 (1.174 - 3.285)}; \node[text=pred, font=\fs{7.5}\bfseries] at (685.5,13.5) {0.010};
\end{scope}

% ================= panel letters =================
\begin{scope}[every node/.style={font=\fs{17}, inner sep=0pt}]
\node at (8.5,680.5) {A};
\node at (276,681) {B};
\node at (516,681) {C};
\node at (8.5,420) {D};
\node at (321,420) {E};
\node at (536,420) {F};
\node at (9,230) {G};
\node at (299,229) {H};
\end{scope}
\end{tikzpicture}
\end{document}
